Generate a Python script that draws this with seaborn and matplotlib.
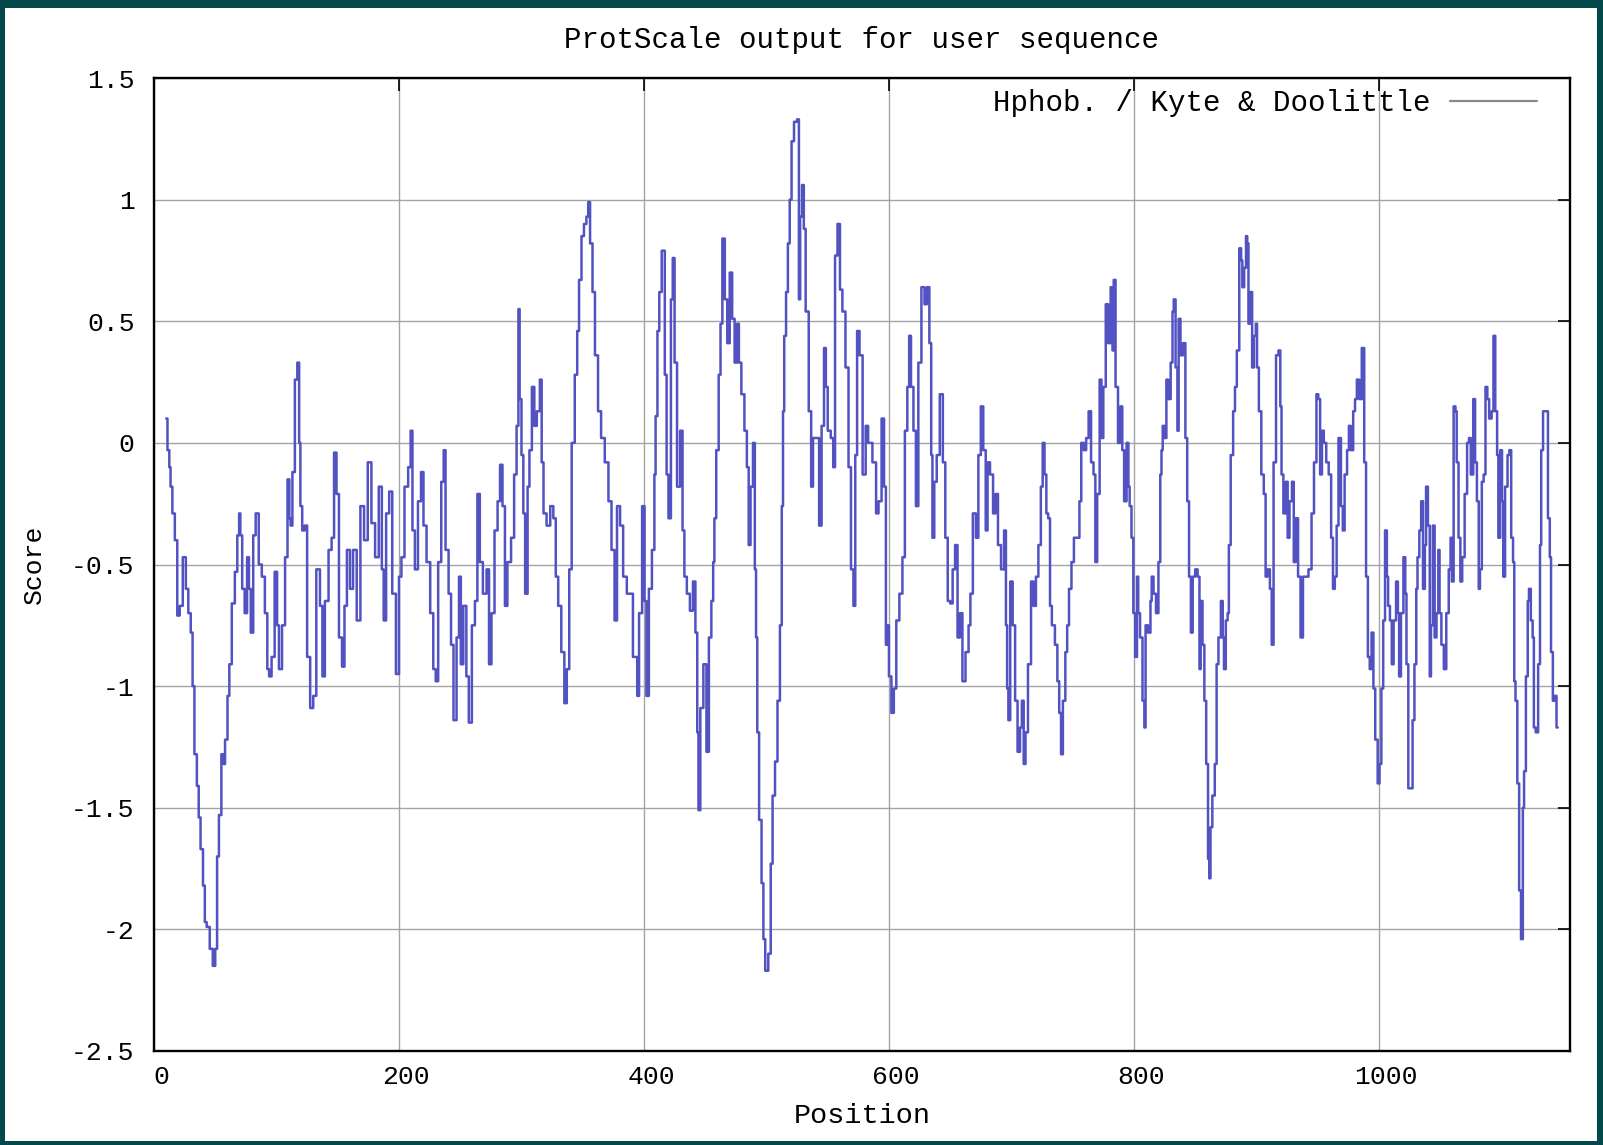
"""
ProtScale hydropathy profile (Kyte & Doolittle) redrawn with seaborn.
"""

import matplotlib
matplotlib.use("Agg")
import matplotlib.pyplot as plt
from matplotlib.patches import Rectangle
from matplotlib.transforms import ScaledTranslation
import pandas as pd
import seaborn as sns

# (position, score) pairs, split by region
seg_a = [(10, 0.10), (12, -0.03), (13, -0.10), (14, -0.18), (16, -0.29), (18, -0.40), (20, -0.71),
         (22, -0.67), (25, -0.47), (27, -0.60), (29, -0.70), (31, -0.78), (32, -1.00), (34, -1.28),
         (36, -1.41), (37, -1.54), (39, -1.67), (41, -1.82), (42, -1.97), (44, -1.99), (47, -2.08),
         (49, -2.15), (51, -2.08), (52, -1.70), (54, -1.53), (56, -1.28), (57, -1.32), (59, -1.22),
         (61, -1.04), (62, -0.91), (65, -0.66), (67, -0.53), (69, -0.38), (70, -0.29), (71, -0.38),
         (73, -0.60), (75, -0.70), (77, -0.47), (78, -0.60), (80, -0.78), (82, -0.38), (84, -0.29),
         (87, -0.50), (89, -0.55), (92, -0.70), (93, -0.93), (95, -0.96), (97, -0.88), (100, -0.53),
         (101, -0.75), (103, -0.93), (106, -0.75), (108, -0.47), (110, -0.15), (111, -0.31),
         (112, -0.34), (114, -0.12), (116, 0.26), (118, 0.33), (119, 0.00), (120, -0.26),
         (122, -0.36), (124, -0.34), (126, -0.88), (129, -1.09), (131, -1.04), (134, -0.52),
         (137, -0.67), (138, -0.96), (141, -0.65), (144, -0.44), (146, -0.39), (148, -0.04),
         (150, -0.21), (152, -0.80), (155, -0.92), (156, -0.67), (159, -0.44), (161, -0.60),
         (164, -0.44), (167, -0.73), (170, -0.26), (173, -0.40), (176, -0.08), (179, -0.33),
         (182, -0.47), (185, -0.18), (187, -0.52), (188, -0.73), (191, -0.29), (193, -0.20)]

seg_b = [(196, -0.62), (199, -0.95), (201, -0.55), (203, -0.47), (206, -0.18), (209, -0.10),
         (210, 0.05), (212, -0.36), (214, -0.52), (217, -0.24), (219, -0.12), (221, -0.34),
         (224, -0.49), (227, -0.70), (229, -0.93), (231, -0.98), (233, -0.49), (236, -0.16),
         (237, -0.03), (239, -0.44), (242, -0.62), (243, -0.83), (246, -1.14), (248, -0.80),
         (250, -0.55), (251, -0.91), (254, -0.67), (256, -0.96), (258, -1.15), (261, -0.75),
         (263, -0.65), (265, -0.21), (267, -0.49), (270, -0.62), (273, -0.52), (274, -0.91),
         (277, -0.70), (279, -0.36), (282, -0.24), (283, -0.09), (286, -0.26), (287, -0.67),
         (290, -0.49), (293, -0.39), (295, -0.13), (297, 0.07), (298, 0.55), (299, 0.18),
         (301, -0.05), (302, -0.29), (304, -0.62), (306, -0.18), (307, -0.03), (310, 0.23),
         (311, 0.07), (314, 0.13), (316, 0.26), (317, -0.08), (319, -0.29), (322, -0.34),
         (325, -0.26), (327, -0.31), (329, -0.55), (331, -0.67), (334, -0.86), (336, -1.07),
         (338, -0.93), (340, -0.52), (342, 0.00), (345, 0.28), (346, 0.46), (348, 0.67),
         (350, 0.85), (352, 0.90), (354, 0.93), (355, 0.99), (357, 0.82), (359, 0.62),
         (361, 0.36), (364, 0.13), (366, 0.02), (370, -0.08), (372, -0.24), (375, -0.44),
         (377, -0.73), (379, -0.26), (382, -0.34), (384, -0.55), (388, -0.62)]

seg_c = [(394, -0.88), (395, -1.04), (397, -0.70), (400, -0.26), (401, -0.65), (403, -1.04),
         (405, -0.60), (408, -0.44), (409, -0.13), (410, 0.11), (412, 0.46), (413, 0.62),
         (416, 0.79), (418, 0.28), (419, -0.13), (421, -0.31), (423, 0.59), (424, 0.76),
         (426, 0.33), (428, -0.18), (431, 0.05), (432, -0.36), (434, -0.55), (436, -0.62),
         (439, -0.69), (441, -0.57), (443, -0.78), (444, -1.19), (445, -1.51), (447, -1.09),
         (450, -0.91), (452, -1.27), (454, -0.80), (456, -0.65), (457, -0.49), (458, -0.31),
         (460, -0.03), (462, 0.28), (463, 0.49), (465, 0.84), (467, 0.59), (469, 0.41),
         (471, 0.70), (473, 0.51), (475, 0.33), (477, 0.49), (478, 0.33), (481, 0.20),
         (483, 0.05), (485, -0.10), (486, -0.42), (488, -0.18), (490, 0.00), (491, -0.52),
         (492, -0.80), (493, -1.19), (495, -1.55), (497, -1.81), (498, -2.04), (500, -2.17),
         (503, -2.10), (504, -1.73), (506, -1.45), (508, -1.31), (510, -1.06), (512, -0.75),
         (513, -0.26), (514, 0.13), (515, 0.44), (517, 0.62), (518, 0.82), (520, 1.00),
         (521, 1.24), (524, 1.32), (526, 1.33), (527, 0.59), (528, 0.93), (530, 1.06),
         (531, 0.88), (533, 0.54), (536, 0.13), (537, -0.18), (539, 0.02), (542, 0.02),
         (544, -0.34), (546, 0.07), (548, 0.39), (549, 0.23), (551, 0.05), (554, 0.02),
         (555, -0.10), (557, 0.77), (559, 0.90), (561, 0.63), (563, 0.54), (566, 0.31),
         (568, -0.10), (570, -0.52), (572, -0.67), (573, -0.05), (575, 0.46), (577, 0.36),
         (580, -0.13), (582, 0.07), (584, 0.00)]

seg_d = [(589, -0.08), (590, -0.29), (593, -0.24), (595, 0.10), (597, -0.18), (598, -0.83),
         (599, -0.75), (601, -0.96), (603, -1.11), (605, -1.01), (607, -0.73), (610, -0.62),
         (612, -0.47), (614, 0.05), (616, 0.23), (617, 0.44), (619, 0.23), (621, 0.05),
         (623, -0.26), (625, 0.33), (628, 0.64), (630, 0.57), (632, 0.64), (634, 0.41),
         (635, -0.05), (636, -0.39), (638, -0.16), (640, -0.05), (643, 0.20), (645, -0.08),
         (647, -0.39), (649, -0.65), (651, -0.66), (653, -0.52), (655, -0.42), (657, -0.80),
         (659, -0.70), (661, -0.98), (664, -0.86), (666, -0.75), (667, -0.62), (670, -0.29),
         (672, -0.39), (674, -0.05), (676, 0.15), (678, -0.03), (680, -0.36), (681, -0.08),
         (684, -0.13), (686, -0.29), (688, -0.21), (690, -0.42), (693, -0.52), (695, -0.36),
         (696, -0.75), (697, -1.01), (698, -1.14), (700, -0.57), (702, -0.75), (704, -1.06),
         (706, -1.27), (708, -1.17), (709, -1.06), (711, -1.32), (712, -1.19), (715, -0.91),
         (717, -0.57), (719, -0.67), (721, -0.55), (723, -0.42), (725, -0.18), (726, 0.00),
         (728, -0.13), (729, -0.29), (731, -0.31), (732, -0.67), (734, -0.75), (737, -0.83),
         (738, -0.98), (740, -1.11), (741, -1.28), (743, -1.06), (745, -0.86), (746, -0.75),
         (748, -0.60), (750, -0.49), (752, -0.39), (755, -0.39), (756, -0.24), (758, 0.00),
         (760, -0.03), (762, 0.02), (764, 0.13), (766, -0.08), (768, -0.13), (769, -0.49),
         (771, -0.21), (773, 0.26), (774, 0.02), (776, 0.23), (778, 0.57), (780, 0.41)]

seg_e = [(782, 0.64), (783, 0.38), (784, 0.67), (786, 0.23), (788, 0.00), (790, 0.15),
         (791, -0.03), (793, -0.24), (795, 0.00), (796, -0.18), (797, -0.26), (799, -0.39),
         (800, -0.70), (802, -0.88), (803, -0.55), (804, -0.70), (806, -0.80), (808, -1.06),
         (809, -1.17), (810, -0.75), (813, -0.78), (814, -0.65), (815, -0.55), (817, -0.62),
         (819, -0.70), (821, -0.49), (822, -0.13), (823, -0.03), (824, 0.07), (826, 0.02),
         (827, 0.26), (829, 0.18), (831, 0.33), (832, 0.54), (833, 0.59), (835, 0.31),
         (836, 0.05), (837, 0.51), (839, 0.36), (841, 0.41), (843, 0.02), (844, -0.24),
         (846, -0.55), (847, -0.78), (849, -0.55), (851, -0.52), (853, -0.55), (854, -0.93),
         (855, -0.65), (857, -0.83), (858, -1.06), (860, -1.32), (861, -1.71), (862, -1.79),
         (863, -1.58), (865, -1.45), (867, -1.32), (868, -0.91), (870, -0.80), (872, -0.65),
         (873, -0.80), (874, -0.93), (876, -0.73), (877, -0.70), (878, -0.42), (880, -0.05),
         (882, 0.13), (883, 0.23), (885, 0.38), (887, 0.80), (888, 0.75), (889, 0.64),
         (891, 0.72), (892, 0.85), (893, 0.82), (894, 0.49), (896, 0.62), (897, 0.31),
         (899, 0.44), (900, 0.49), (901, 0.31), (903, 0.13), (905, -0.13), (907, -0.21),
         (908, -0.55), (910, -0.52), (912, -0.60), (913, -0.83), (915, -0.08), (917, 0.36),
         (919, 0.38), (920, 0.15), (921, -0.13), (923, -0.29), (925, -0.16), (926, -0.39),
         (928, -0.24), (930, -0.16), (931, -0.49), (933, -0.31), (935, -0.55), (937, -0.80),
         (939, -0.55), (941, -0.55), (944, -0.52), (946, -0.29), (948, -0.08), (950, 0.20),
         (951, 0.18), (953, -0.13), (954, 0.05), (956, 0.00), (958, -0.08), (960, -0.13),
         (962, -0.39), (963, -0.60), (965, -0.55), (966, -0.34), (968, 0.02), (970, -0.26),
         (971, -0.36), (973, -0.13), (975, -0.03), (976, 0.07), (978, -0.03), (980, 0.13),
         (981, 0.18), (983, 0.26)]

seg_f = [(985, 0.18), (987, 0.39), (989, -0.08), (990, -0.55), (992, -0.88), (993, -0.93),
         (995, -0.78), (996, -1.01), (998, -1.22), (1000, -1.40), (1001, -1.32), (1003, -1.01),
         (1004, -0.73), (1006, -0.36), (1007, -0.55), (1008, -0.67), (1010, -0.73), (1011, -0.91),
         (1013, -0.73), (1015, -0.57), (1016, -0.70), (1017, -0.96), (1019, -0.70), (1021, -0.47),
         (1022, -0.62), (1023, -0.91), (1025, -1.42), (1027, -1.42), (1028, -1.14), (1030, -0.91),
         (1031, -0.60), (1032, -0.47), (1034, -0.36), (1035, -0.24), (1037, -0.60), (1038, -0.42),
         (1039, -0.18), (1041, -0.34), (1042, -0.96), (1043, -0.75), (1045, -0.34), (1046, -0.80),
         (1048, -0.70), (1049, -0.44), (1050, -0.70), (1052, -0.83), (1054, -0.93), (1056, -0.70),
         (1058, -0.52), (1059, -0.39), (1060, -0.57), (1062, 0.15), (1063, 0.13), (1064, -0.08),
         (1066, -0.39), (1067, -0.57), (1069, -0.47), (1071, -0.21), (1073, 0.00), (1074, 0.02),
         (1076, -0.13), (1078, 0.18), (1079, -0.08), (1081, -0.24), (1082, -0.60), (1083, -0.52),
         (1085, -0.16), (1086, -0.13), (1088, 0.23), (1089, 0.18), (1091, 0.10), (1093, 0.13),
         (1094, 0.44), (1096, 0.13), (1097, -0.05), (1098, -0.39), (1100, -0.03), (1101, -0.24),
         (1102, -0.55), (1104, -0.18), (1106, -0.05), (1107, -0.03), (1109, -0.39), (1110, -0.49),
         (1111, -0.98), (1112, -1.06), (1114, -1.40), (1115, -1.84), (1117, -2.04), (1118, -1.50),
         (1119, -1.35), (1121, -0.96), (1122, -0.65), (1123, -0.60), (1125, -0.73), (1126, -0.80),
         (1127, -1.17), (1129, -1.19), (1131, -0.91), (1132, -0.42), (1133, -0.03), (1135, 0.13),
         (1137, 0.13), (1139, -0.31), (1140, -0.47), (1141, -0.86), (1143, -1.06), (1144, -1.04),
         (1146, -1.17)]

seq_length = 1156
x_ticks = [0, 200, 400, 600, 800, 1000]
x_tick_labels = ["0", "200", "400", "600", "800", "1000"]
y_ticks = [1.5, 1.0, 0.5, 0.0, -0.5, -1.0, -1.5, -2.0, -2.5]
y_tick_labels = ["1.5", "1", "0.5", "0", "-0.5", "-1", "-1.5", "-2", "-2.5"]

title = "ProtScale output for user sequence"
series_label = "Hphob. / Kyte & Doolittle"

# style
sns.set_theme(style="white")
plt.rcParams["font.family"] = ["Liberation Mono", "DejaVu Sans Mono"]
for key in ["text.color", "axes.labelcolor", "xtick.color", "ytick.color", "axes.edgecolor"]:
    plt.rcParams[key] = "black"

df = pd.DataFrame(seg_a + seg_b + seg_c + seg_d + seg_e + seg_f, columns=["position", "score"])

W, H = 1603, 1145
fig = plt.figure(figsize=(W / 100, H / 100), dpi=100)
fig.patch.set_facecolor("#03484b")
fig.add_artist(Rectangle((5 / W, 4 / H), 1592 / W, 1133 / H, transform=fig.transFigure,
                         facecolor="white", edgecolor="none", zorder=0))

ax = fig.add_axes([154 / W, 94 / H, 1416 / W, 973 / H])
ax.set_facecolor("white")

sns.lineplot(data=df, x="position", y="score", ax=ax, color="#5252c2", linewidth=1.8,
             drawstyle="steps-mid", estimator=None, sort=False, label=series_label, zorder=3)

ax.set_xlim(0, seq_length)
ax.set_ylim(-2.5, 1.5)
ax.set_xticks(x_ticks)
ax.set_xticklabels(x_tick_labels)
ax.set_yticks(y_ticks)
ax.set_yticklabels(y_tick_labels)

ax.grid(True, color="#a4a4a4", linewidth=1.0, zorder=1)
ax.set_axisbelow(True)
for spine in ax.spines.values():
    spine.set_visible(True)
    spine.set_color("black")
    spine.set_linewidth(1.7)

ax.tick_params(direction="in", length=9, width=1.2, top=True, right=True,
               labeltop=False, labelright=False, labelsize=19)
ax.tick_params(axis="y", pad=14)
ax.tick_params(axis="x", pad=10)
for lbl in ax.get_xticklabels():
    lbl.set_transform(lbl.get_transform() + ScaledTranslation(7 / 100, 0, fig.dpi_scale_trans))

ax.set_xlabel("Position", fontsize=20.5)
ax.set_ylabel("Score", fontsize=19)
ax.xaxis.set_label_coords(0.5, (1051 - 1116) / 973)
ax.xaxis.label.set_va("center")
ax.yaxis.set_label_coords((34 - 154) / 1416, 0.5)
ax.yaxis.label.set_va("center")

ax.set_title(title, fontsize=21, y=(1051 - 48) / 973, va="center")

leg = ax.legend(loc="center right", bbox_to_anchor=(1537 / W, (H - 103) / H),
                bbox_transform=fig.transFigure, frameon=False, markerfirst=False,
                borderpad=0, borderaxespad=0, handlelength=3.0, handletextpad=0.65,
                fontsize=21)
for line in leg.get_lines():
    line.set_color("#8a8a8a")
    line.set_linewidth(1.6)

fig.savefig("out.png", dpi=100, facecolor=fig.get_facecolor())
plt.close(fig)
